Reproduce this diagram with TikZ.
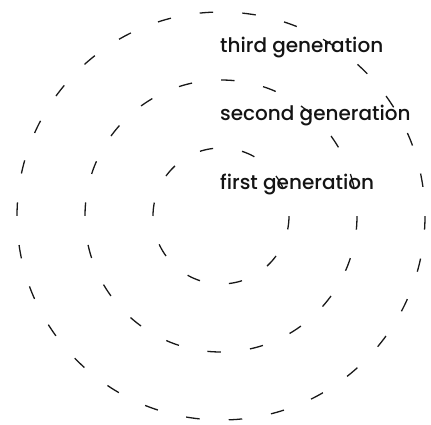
\documentclass[tikz,border=0pt]{standalone}
\usepackage{fontspec}
\setmainfont{Poppins}[UprightFont=* Medium]
\begin{document}
\begin{tikzpicture}[x=1pt,y=1pt,
  ring/.style={draw=black!90, line width=1.3pt,
    dash pattern=on 13.5pt off 29.2257pt, dash phase=13.5pt},
  gen/.style={anchor=base west, inner sep=0pt, text=black!92, font=\fontsize{20}{23}\selectfont}]
\useasboundingbox (0,0) rectangle (431,424);
\coordinate (c) at (221,208);
\draw[ring] (c) circle[radius=68];
\draw[ring] (c) circle[radius=136];
\draw[ring] (c) circle[radius=204];
\node[gen] (t3) at (220,371) {third generation};
\node[gen] (t2) at (220,303) {second generation};
\node[gen] (t1) at (220,235) {first generation};
\end{tikzpicture}
\end{document}
